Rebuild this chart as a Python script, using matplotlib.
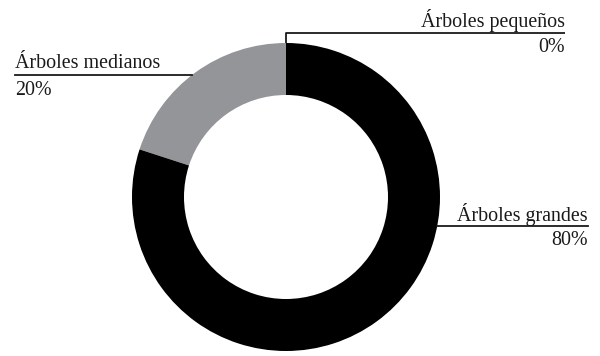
import numpy as np
import matplotlib
matplotlib.use("Agg")
import matplotlib.pyplot as plt

# Tree size distribution
categories = ["Árboles pequeños", "Árboles medianos", "Árboles grandes"]
shares = [0, 20, 80]
pct_labels = ["0%", "20%", "80%"]
colors = ["#939598", "#939598", "#000000"]

W, H = 600, 356
fig = plt.figure(figsize=(W / 100, H / 100), dpi=100)
ax = fig.add_axes([0, 0, 1, 1])

cx, cy = 286, 159
r_out, r_in = 154, 102

wedges, _ = ax.pie(shares, colors=colors, startangle=90, counterclock=True,
                   center=(cx, cy), radius=r_out,
                   wedgeprops=dict(width=r_out - r_in, linewidth=0),
                   frame=True)
ax.set_xlim(0, W)
ax.set_ylim(0, H)
ax.set_aspect("equal")
ax.axis("off")

font = dict(family="Liberation Serif", size=14.4, color="#1a1a1a")
lc = "#1a1a1a"
lw = 1.3


def edge_x(y, side):
    dy = y - cy
    return cx + side * np.sqrt(r_out ** 2 - dy ** 2)


# small trees: tick up from top of ring, then line to the right
w0 = wedges[0]
ang = np.deg2rad(w0.theta1)
ax0, ay0 = cx + r_out * np.cos(ang), cy + r_out * np.sin(ang)
y_line = H - 33
ax.plot([ax0, ax0, 565], [ay0, y_line, y_line], color=lc, lw=lw,
        solid_capstyle="butt")
ax.text(565, y_line + 6, categories[0], ha="right", va="baseline", **font)
ax.text(565, y_line - 19, pct_labels[0], ha="right", va="baseline", **font)

# medium trees: line to the left
y_line = H - 75
ax.plot([15, edge_x(y_line, -1)], [y_line, y_line], color=lc, lw=lw)
ax.text(15, y_line + 7, categories[1], ha="left", va="baseline", **font)
ax.text(15, y_line - 20, pct_labels[1], ha="left", va="baseline", **font)

# large trees: line to the right
y_line = H - 226
ax.plot([edge_x(y_line, 1), 588], [y_line, y_line], color=lc, lw=lw)
ax.text(588, y_line + 5, categories[2], ha="right", va="baseline", **font)
ax.text(588, y_line - 19, pct_labels[2], ha="right", va="baseline", **font)

fig.savefig("out.png", dpi=100, facecolor="white")
